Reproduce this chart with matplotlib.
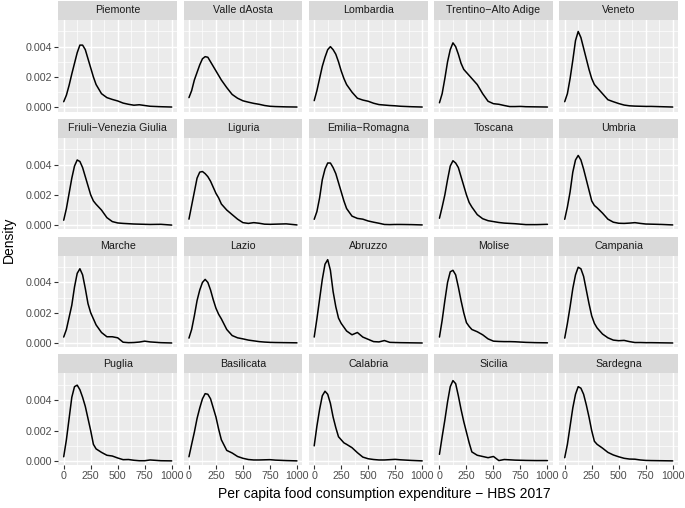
import matplotlib
matplotlib.use("Agg")
import matplotlib.pyplot as plt
from matplotlib.ticker import FixedLocator

plt.rcParams['font.family'] = ['Liberation Sans', 'DejaVu Sans']

# ---------------- data ----------------
expenditure = [0, 25, 50, 75, 100, 125, 150, 175, 200, 225, 250, 275, 300,
               350, 400, 450, 500, 550, 600, 650, 700, 750, 800, 900, 1000]

regions = ["Piemonte", "Valle dAosta", "Lombardia", "Trentino\u2212Alto Adige", "Veneto",
           "Friuli\u2212Venezia Giulia", "Liguria", "Emilia\u2212Romagna", "Toscana", "Umbria",
           "Marche", "Lazio", "Abruzzo", "Molise", "Campania",
           "Puglia", "Basilicata", "Calabria", "Sicilia", "Sardegna"]

piemonte = [.00037, .0008, .00145, .0022, .0029, .0036, .0041, .0041, .0038, .0032, .0026, .0020, .0015,
            .0009, .00064, .00052, .00042, .00028, .0002, .00014, .00017, .00012, .00007, .00004, .00002]
valle_daosta = [.00064, .0011, .0018, .0023, .0028, .0032, .00334, .0033, .0030, .0027, .0024, .0021, .0018,
                .0013, .00085, .0006, .00043, .00034, .00026, .0002, .00012, .00007, .00005, .00003, .00002]
lombardia = [.00044, .0011, .0019, .0027, .0033, .0038, .0040, .0038, .0035, .0030, .0024, .0019, .0015,
             .0010, .0006, .00048, .0004, .00027, .00018, .00015, .00012, .0001, .00007, .00004, .00002]
trentino = [.0003, .0009, .0019, .0030, .0038, .00425, .0040, .0035, .0029, .0025, .0023, .0021, .0019,
            .0015, .0009, .0004, .00024, .0002, .00012, .00005, .00005, .00006, .00004, .00003, .00002]
veneto = [.00037, .0009, .0019, .0031, .0044, .0050, .0046, .0039, .0032, .0025, .0019, .0015, .0013,
          .0009, .0005, .00037, .00025, .00015, .0001, .00008, .00007, .00006, .00006, .00004, .00002]
friuli = [.00033, .0011, .0021, .0031, .0039, .0043, .0042, .0038, .0032, .0026, .0020, .0016, .00138,
          .0010, .0005, .00024, .00015, .00012, .0001, .00008, .00007, .00006, .00005, .00006, .00001]
liguria = [.0004, .0013, .0022, .0031, .0035, .00354, .0034, .0032, .0029, .0025, .0021, .0018, .0014,
           .0010, .0007, .0004, .00017, .00012, .00017, .00013, .00007, .00006, .00007, .00009, .00002]
emilia_romagna = [.00039, .0009, .0018, .0030, .0037, .0041, .0041, .0038, .0034, .0028, .0022, .0016, .0011,
                  .0006, .00045, .0004, .00028, .0002, .00013, .00005, .00004, .00005, .00005, .00004, .00002]
toscana = [.00046, .0012, .0020, .0030, .0039, .00425, .0041, .0038, .0032, .0026, .0020, .0015, .0012,
           .0007, .00043, .0003, .00024, .00018, .00014, .00012, .0001, .00007, .00004, .00004, .00006]
umbria = [.00039, .0012, .0022, .0035, .0043, .0046, .0043, .0037, .0030, .0023, .0016, .0013, .00115,
          .0008, .0004, .0002, .00013, .00012, .00014, .00017, .00012, .00008, .00007, .00005, .00002]
marche = [.0004, .0009, .0017, .0025, .0037, .0046, .0049, .0045, .0036, .0026, .0020, .0016, .0012,
          .0007, .00042, .00042, .00035, .00006, .00003, .00004, .00007, .00013, .00008, .00003, .00001]
lazio = [.00033, .0009, .0018, .0028, .0035, .0040, .0042, .0040, .0035, .00286, .0023, .0019, .0016,
         .0009, .0005, .00035, .00028, .0002, .00015, .0001, .00007, .00005, .00004, .00003, .00002]
abruzzo = [.0004, .0016, .0029, .0042, .0052, .0055, .0048, .0034, .0024, .00165, .0013, .00105, .0008,
           .00055, .0007, .0004, .00025, .0001, .00008, .00017, .00005, .00004, .00003, .00002, .00001]
molise = [.0004, .0015, .0028, .0040, .0047, .0048, .0045, .0037, .0028, .0020, .00135, .0011, .0009,
          .00075, .00055, .00028, .00013, .00011, .0001, .0001, .00009, .00007, .00005, .00003, .00002]
campania = [.00033, .0013, .0024, .0036, .0045, .0050, .0049, .0044, .0035, .0026, .0018, .0013, .0010,
            .0006, .00035, .0002, .00016, .00018, .0001, .00004, .00004, .00003, .00003, .00002, .00001]
puglia = [.00028, .0014, .0028, .0042, .0049, .0050, .0047, .0042, .0036, .0028, .0020, .0011, .0008,
          .00057, .00038, .00033, .0002, .00009, .0001, .00005, .00002, .00002, .00007, .00002, .00001]
basilicata = [.00028, .0011, .0019, .0028, .0035, .0041, .00444, .0044, .0041, .0035, .0029, .0021, .0014,
              .0007, .00053, .0003, .00018, .0001, .00007, .00007, .00008, .00009, .00006, .00003, .00001]
calabria = [.0010, .0023, .0034, .0043, .0046, .0044, .0038, .0029, .0022, .0016, .0014, .0012, .0011,
            .00088, .00055, .00026, .00015, .0001, .00007, .00007, .00009, .00011, .00008, .00004, .00001]
sicilia = [.00044, .0016, .0027, .0039, .0049, .0053, .0051, .0043, .0034, .0026, .0019, .0012, .0006,
           .00038, .0003, .00022, .0003, .00003, .0001, .00008, .00006, .00005, .00004, .00003, .00003]
sardegna = [.00022, .0011, .0023, .0035, .0044, .0049, .0048, .0044, .0037, .0029, .0020, .0013, .0011,
            .00085, .00057, .0004, .00028, .00018, .00013, .00012, .00007, .00004, .00003, .00002, .00001]

densities = [piemonte, valle_daosta, lombardia, trentino, veneto,
             friuli, liguria, emilia_romagna, toscana, umbria,
             marche, lazio, abruzzo, molise, campania,
             puglia, basilicata, calabria, sicilia, sardegna]

x_ticks = [0, 250, 500, 750, 1000]
x_tick_labels = ["0", "250", "500", "750", "1000"]
y_ticks = [0.000, 0.002, 0.004]
y_tick_labels = ["0.000", "0.002", "0.004"]

# ---------------- layout ----------------
W, H = 685, 508
fig = plt.figure(figsize=(W / 100, H / 100), dpi=100)
fig.patch.set_facecolor("white")

col_left0, col_pitch, pw = 58.3, 125.25, 118.8
row_top0, row_pitch, ph = 19.7, 117.9, 91.8
strip_h = 19.0

ymax = max(max(d) for d in densities)
ylim = (-0.05 * ymax, 1.05 * ymax)
xlim = (-50, 1050)

for i, (name, dens) in enumerate(zip(regions, densities)):
    r, c = divmod(i, 5)
    left = col_left0 + c * col_pitch
    top = row_top0 + r * row_pitch
    ax = fig.add_axes([left / W, 1 - (top + ph) / H, pw / W, ph / H])
    ax.set_facecolor("#EBEBEB")
    ax.set_xlim(*xlim)
    ax.set_ylim(*ylim)
    ax.xaxis.set_major_locator(FixedLocator(x_ticks))
    ax.xaxis.set_minor_locator(FixedLocator([125, 375, 625, 875]))
    ax.yaxis.set_major_locator(FixedLocator(y_ticks))
    ax.yaxis.set_minor_locator(FixedLocator([0.001, 0.003, 0.005]))
    ax.grid(which="major", color="white", linewidth=1.05)
    ax.grid(which="minor", color="white", linewidth=0.5)
    ax.set_axisbelow(True)
    for s in ax.spines.values():
        s.set_visible(False)
    ax.plot(expenditure, dens, color="black", linewidth=1.1,
            solid_joinstyle="round", solid_capstyle="round")

    ax.tick_params(which="minor", length=0)
    ax.tick_params(which="major", length=2.7, width=0.8, color="#333333",
                   labelsize=7.7, labelcolor="#4D4D4D", pad=1.5)
    if r == 3:
        ax.set_xticklabels(x_tick_labels)
    else:
        ax.tick_params(axis="x", which="major", length=0, labelbottom=False)
    if c == 0:
        ax.set_yticklabels(y_tick_labels)
    else:
        ax.tick_params(axis="y", which="major", length=0, labelleft=False)

    sax = fig.add_axes([left / W, 1 - top / H, pw / W, strip_h / H])
    sax.set_facecolor("#D9D9D9")
    sax.set_xticks([])
    sax.set_yticks([])
    for s in sax.spines.values():
        s.set_visible(False)
    sax.text(0.5, 0.5, name, ha="center", va="center", fontsize=7.7,
             color="#1A1A1A", transform=sax.transAxes)

fig.text(384 / W, 1 - 494 / H,
         "Per capita food consumption expenditure \u2212 HBS 2017",
         ha="center", va="center", fontsize=10, color="black")
fig.text(9 / W, 1 - 240 / H, "Density", rotation=90, ha="center", va="center",
         fontsize=10, color="black")

fig.savefig("out.png", dpi=100, facecolor="white")
